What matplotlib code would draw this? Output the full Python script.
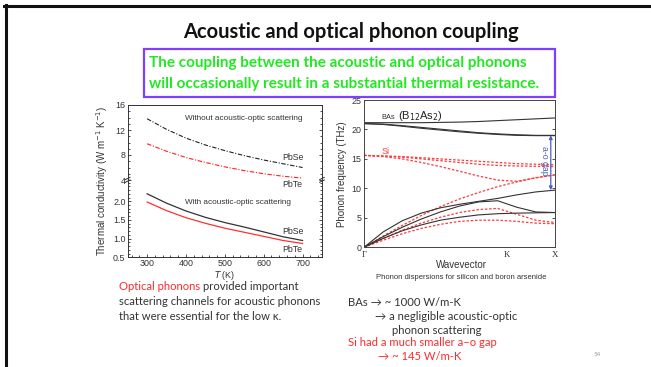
import matplotlib
matplotlib.use("Agg")
import matplotlib.pyplot as plt
from matplotlib.patches import Rectangle
from matplotlib.lines import Line2D

# ---------------- data ----------------
temps = [300, 350, 400, 450, 500, 550, 600, 650, 700]
pbse_no_ao = [13.8, 12.1, 10.7, 9.6, 8.7, 7.9, 7.2, 6.6, 6.0]
pbte_no_ao = [9.8, 8.6, 7.6, 6.8, 6.1, 5.5, 5.0, 4.6, 4.3]
pbse_ao = [2.20, 1.95, 1.74, 1.57, 1.43, 1.31, 1.18, 1.05, 0.95]
pbte_ao = [1.98, 1.75, 1.56, 1.41, 1.28, 1.17, 1.06, 0.95, 0.87]

kpath = [0.0, 0.1, 0.2, 0.3, 0.4, 0.5, 0.6, 0.7, 0.8, 0.9, 1.0]
kpath_labels = ["\u0393", "K", "X"]
kpath_ticks = [0.0, 0.75, 1.0]
bas_bands = [
    [21.15, 21.15, 21.15, 21.15, 21.2, 21.25, 21.35, 21.5, 21.65, 21.8, 21.95],
    [21.0, 20.9, 20.65, 20.35, 20.05, 19.75, 19.45, 19.25, 19.1, 19.0, 19.0],
    [21.0, 20.85, 20.55, 20.2, 19.9, 19.6, 19.35, 19.15, 19.0, 18.95, 18.95],
    [0.0, 2.6, 4.5, 5.8, 6.7, 7.3, 7.8, 8.3, 8.9, 9.4, 9.7],
    [0.0, 1.8, 3.4, 4.8, 6.0, 7.0, 7.7, 7.9, 6.8, 6.0, 5.9],
    [0.0, 1.5, 2.8, 3.8, 4.6, 5.1, 5.5, 5.7, 5.8, 5.85, 5.9],
]
si_bands = [
    [15.6, 15.5, 15.4, 15.2, 15.0, 14.8, 14.6, 14.4, 14.2, 14.1, 14.0],
    [15.6, 15.5, 15.3, 15.0, 14.7, 14.4, 14.1, 13.9, 13.8, 13.75, 13.7],
    [15.6, 15.4, 15.0, 14.4, 13.7, 12.9, 12.1, 11.4, 11.2, 11.8, 12.3],
    [0.0, 1.9, 3.7, 5.4, 6.9, 8.2, 9.3, 10.3, 11.1, 11.8, 12.3],
    [0.0, 1.5, 2.9, 4.1, 5.1, 5.9, 6.4, 6.6, 5.6, 4.6, 4.2],
    [0.0, 1.2, 2.3, 3.2, 3.9, 4.4, 4.6, 4.6, 4.4, 4.1, 4.0],
]
gap_bottom, gap_top = 9.7, 19.0

W, H = 651, 367
fig = plt.figure(figsize=(W / 100, H / 100), dpi=100)
fig.patch.set_facecolor("white")

def fx(px):
    return px / W

def fy(py):
    return 1 - py / H

chart_font = "Liberation Sans"
slide_font = ["Lato", "DejaVu Sans"]
tick_fs = 6.4

# ---------------- slide frame ----------------
fig.add_artist(Line2D([fx(4), fx(651)], [fy(6), fy(6)], color="#111111", lw=2.2))
fig.add_artist(Line2D([fx(5.5), fx(5.5)], [fy(5), fy(367)], color="#111111", lw=2.2))

fig.text(fx(351), fy(32), "Acoustic and optical phonon coupling", family=slide_font,
         fontsize=14.5, fontweight="bold", ha="center", va="center", color="#111111")
fig.add_artist(Rectangle((fx(143.5), fy(97)), fx(555) - fx(143.5), fy(49) - fy(97),
                         fill=False, edgecolor="#7f3fff", lw=1.6))
fig.text(fx(149), fy(63), "The coupling between the acoustic and optical phonons",
         family=slide_font, fontsize=11.0, fontweight="bold", color="#22e822", va="center")
fig.text(fx(149), fy(84), "will occasionally result in a substantial thermal resistance.",
         family=slide_font, fontsize=11.0, fontweight="bold", color="#22e822", va="center")

# ---------------- thermal conductivity (broken axis) ----------------
L, R = 127.7, 322
ax_up = fig.add_axes([fx(L), fy(180), fx(R) - fx(L), fy(105) - fy(180)])
ax_lo = fig.add_axes([fx(L), fy(257.3), fx(R) - fx(L), fy(181.5) - fy(257.3)])

ax_up.plot(temps, pbse_no_ao, color="#222222", lw=0.8, ls=(0, (4, 1.5, 1, 1.5)))
ax_up.plot(temps, pbte_no_ao, color="#ff2020", lw=0.8, ls=(0, (4, 1.5, 1, 1.5)))
ax_lo.plot(temps, pbse_ao, color="#333333", lw=0.9)
ax_lo.plot(temps, pbte_ao, color="#ff3030", lw=0.9)

ax_up.set_ylim(4, 16)
ax_up.set_yticks([4, 8, 12, 16])
ax_lo.set_ylim(0.5, 2.53)
ax_lo.set_yticks([0.5, 1.0, 1.5, 2.0])
ax_lo.set_yticklabels(["0.5", "1.0", "1.5", "2.0"])
for a in (ax_up, ax_lo):
    a.set_xlim(250, 750)
    a.set_xticks([300, 400, 500, 600, 700])
    a.minorticks_on()
    a.tick_params(which="both", direction="in", right=True, labelsize=tick_fs,
                  colors="#333333", width=0.6, pad=1.5)
    a.tick_params(which="major", length=2.5)
    a.tick_params(which="minor", length=1.3)
    for s in a.spines.values():
        s.set_linewidth(0.7)
        s.set_color("#333333")
    for lab in a.get_xticklabels() + a.get_yticklabels():
        lab.set_family(chart_font)
ax_up.spines["bottom"].set_visible(False)
ax_up.tick_params(which="both", bottom=False, labelbottom=False)
ax_lo.spines["top"].set_visible(False)
ax_lo.tick_params(which="both", top=False)

# break marks on both spines
for xa in (0.0, 1.0):
    for dy in (0.0, 0.035):
        ax_lo.plot([xa - 0.012, xa + 0.012], [1.0 - 0.01 + dy, 1.0 + 0.02 + dy],
                   transform=ax_lo.transAxes, color="#333333", lw=0.7, clip_on=False)

fig.text(fx(102), fy(181), "Thermal conductivity (W m$^{-1}$ K$^{-1}$)", rotation=90,
         ha="center", va="center", fontsize=7, family=chart_font, color="#333333")
fig.text(fx(225), fy(275), "$T$ (K)", ha="center", va="center", fontsize=6.4,
         family=chart_font, color="#333333")

fig.text(fx(185), fy(119), "Without acoustic-optic scattering", fontsize=5.9,
         family=chart_font, color="#333333", va="center")
fig.text(fx(282), fy(157), "PbSe", fontsize=6.3, family=chart_font, color="#333333", va="center")
fig.text(fx(282), fy(184.5), "PbTe", fontsize=6.3, family=chart_font, color="#333333", va="center")
fig.text(fx(185), fy(202), "With acoustic-optic scattering", fontsize=5.9,
         family=chart_font, color="#333333", va="center")
fig.text(fx(282), fy(231), "PbSe", fontsize=6.3, family=chart_font, color="#333333", va="center")
fig.text(fx(282), fy(249.5), "PbTe", fontsize=6.3, family=chart_font, color="#333333", va="center")

# ---------------- phonon dispersion ----------------
ax_d = fig.add_axes([fx(364), fy(247.3), fx(555) - fx(364), fy(100) - fy(247.3)])
for band in si_bands:
    ax_d.plot(kpath, band, color="#ff3b3b", lw=0.9, ls=(0, (2, 1.4)))
for band in bas_bands:
    ax_d.plot(kpath, band, color="#333333", lw=0.8)
ax_d.set_xlim(0, 1)
ax_d.set_ylim(0, 25)
ax_d.set_yticks([0, 5, 10, 15, 20, 25])
ax_d.set_xticks(kpath_ticks)
ax_d.set_xticklabels(kpath_labels, family="Liberation Serif")
ax_d.tick_params(axis="x", length=0, labelsize=tick_fs, colors="#333333", pad=3)
ax_d.tick_params(axis="y", direction="in", right=True, length=2.5, width=0.6,
                 labelsize=tick_fs, colors="#333333", pad=2)
for lab in ax_d.get_yticklabels():
    lab.set_family(chart_font)
for s in ax_d.spines.values():
    s.set_linewidth(0.7)
    s.set_color("#444444")

ax_d.annotate("", xy=(0.978, gap_top), xytext=(0.978, gap_bottom),
              arrowprops=dict(arrowstyle="<|-|>", color="#4a5fc0", lw=0.9,
                              mutation_scale=5, shrinkA=0, shrinkB=0))
ax_d.text(0.945, 14.6, "a-o gap", rotation=270, color="#4a5fc0", fontsize=6.3,
          family=chart_font, ha="center", va="center")
ax_d.text(0.09, 22.0, "BAs", fontsize=5.3, family=chart_font, color="#333333",
          va="center")
ax_d.text(0.18, 22.2, "(B$_{12}$As$_{2}$)", fontsize=8, family=chart_font,
          color="#222222", va="center")
ax_d.text(0.09, 16.3, "Si", fontsize=6.5, family=chart_font, color="#ff4040", va="center")

fig.text(fx(342), fy(174), "Phonon frequency (THz)", rotation=90, ha="center",
         va="center", fontsize=7, family=chart_font, color="#333333")
fig.text(fx(461), fy(265), "Wavevector", ha="center", va="center", fontsize=7,
         family=chart_font, color="#333333")
fig.text(fx(461), fy(277.5), "Phonon dispersions for silicon and boron arsenide",
         ha="center", va="center", fontsize=5.5, family=chart_font, color="#333333")

# ---------------- slide notes ----------------
note_fs = 8.1
dark = "#333333"
t1 = fig.text(fx(119), fy(287), "Optical phonons", family=slide_font, fontsize=note_fs,
              color="#ff2a2a", va="center")
fig.canvas.draw()
bb = t1.get_window_extent()
fig.text(bb.x1 / fig.dpi / fig.get_figwidth() + 0.004, fy(287), "provided important",
         family=slide_font, fontsize=note_fs, color=dark, va="center")
fig.text(fx(119), fy(301.5), "scattering channels for acoustic phonons",
         family=slide_font, fontsize=note_fs, color=dark, va="center")
fig.text(fx(119), fy(316), "that were essential for the low \u03ba.",
         family=slide_font, fontsize=note_fs, color=dark, va="center")

fig.text(fx(348), fy(302), "BAs \u2192 ~ 1000 W/m-K", family=slide_font,
         fontsize=note_fs, color=dark, va="center")
fig.text(fx(375), fy(316), "\u2192 a negligible acoustic-optic", family=slide_font,
         fontsize=note_fs, color=dark, va="center")
fig.text(fx(392), fy(330), "phonon scattering", family=slide_font,
         fontsize=note_fs, color=dark, va="center")
fig.text(fx(348), fy(342), "Si had a much smaller a\u2013o gap", family=slide_font,
         fontsize=note_fs, color="#ff2a2a", va="center")
fig.text(fx(378), fy(357), "\u2192 ~ 145 W/m-K", family=slide_font,
         fontsize=note_fs, color="#ff2a2a", va="center")
fig.text(fx(597), fy(355), "54", family=slide_font, fontsize=4.5, color="#999999",
         va="center", ha="center")

fig.savefig("out.png", dpi=100, facecolor="white")
